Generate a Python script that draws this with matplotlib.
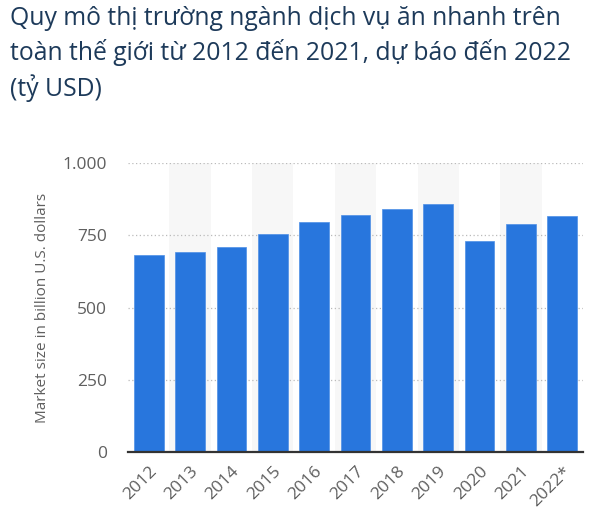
import numpy as np
import matplotlib.pyplot as plt
from matplotlib.ticker import FuncFormatter

plt.rcParams['font.family'] = ['Open Sans', 'DejaVu Sans']

YEARS = ['2012', '2013', '2014', '2015', '2016', '2017', '2018', '2019', '2020', '2021', '2022*']
MARKET_SIZE = [682, 692, 708, 753, 796, 821, 842, 857, 729, 790, 815]
TITLE = 'Quy mô thị trường ngành dịch vụ ăn nhanh trên\ntoàn thế giới từ 2012 đến 2021, dự báo đến 2022\n(tỷ USD)'
YLABEL = 'Market size in billion U.S. dollars'

BAR_COLOR = '#2876dd'
GRAY = '#5f5f5f'

fig = plt.figure(figsize=(6, 5.3), dpi=100)
ax = fig.add_axes([128/600, 1 - 452/530, 455/600, 289/530])

x = np.arange(len(YEARS))

# alternating light bands
for i in x:
    if i % 2 == 1:
        ax.axvspan(i - 0.5, i + 0.5, ymax=1.0, color='#f7f7f7', zorder=0, lw=0)

for yv in [250, 500, 750, 1000]:
    ax.axhline(yv, color='#bbbbbb', lw=0.9, ls=(0, (1, 2)), zorder=1)

ax.bar(x, MARKET_SIZE, width=0.72, color=BAR_COLOR, zorder=2, edgecolor='#4d8fe6', linewidth=0.5)

ax.set_xlim(-0.5, len(YEARS) - 0.5)
ax.set_ylim(0, 1000)
ax.set_yticks([0, 250, 500, 750, 1000])
ax.yaxis.set_major_formatter(FuncFormatter(lambda v, p: f'{int(v):,}'.replace(',', '.')))
ax.set_xticks(x)
ax.set_xticklabels(YEARS, rotation=45, ha='right', rotation_mode='anchor')

for s in ['top', 'right', 'left']:
    ax.spines[s].set_visible(False)
ax.spines['bottom'].set_color('#333333')
ax.spines['bottom'].set_linewidth(1.6)
ax.spines['bottom'].set_zorder(3)
ax.tick_params(axis='both', length=0, labelsize=12.5, labelcolor=GRAY)
ax.tick_params(axis='y', pad=15)
ax.tick_params(axis='x', pad=8)

ax.set_ylabel(YLABEL, color=GRAY, fontsize=11, labelpad=9)

fig.text(10/600, 1 - 6/530, TITLE, ha='left', va='top', fontsize=17.8,
         color='#1d3a5a', linespacing=1.38)

fig.savefig('out.png', dpi=100)
